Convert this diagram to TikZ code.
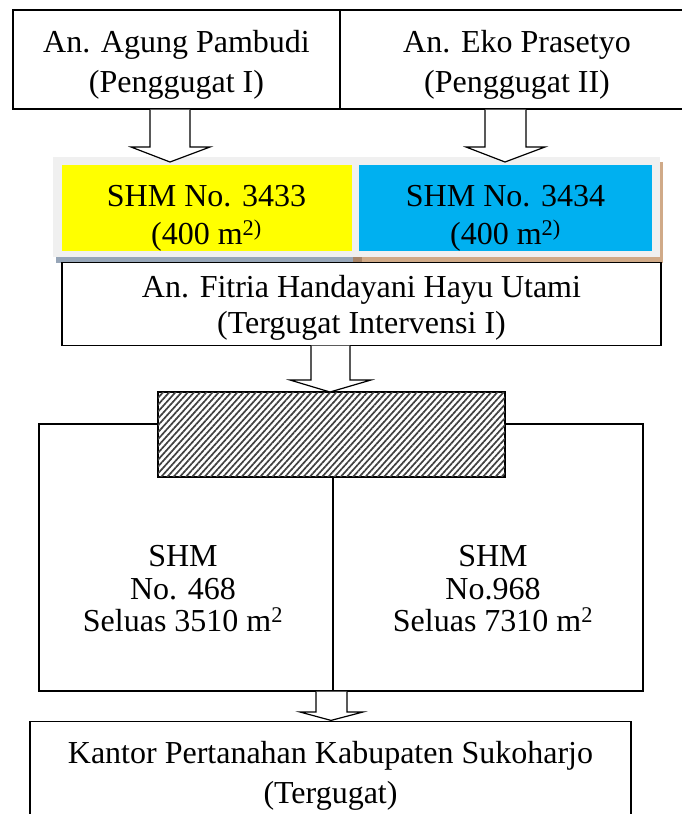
\documentclass[tikz,border=0pt]{standalone}
\usepackage{fontspec}
\setmainfont{Liberation Serif}
\usetikzlibrary{patterns.meta}
\definecolor{shmyellow}{HTML}{FFFF00}
\definecolor{shmblue}{HTML}{00B0F0}
\definecolor{panelgray}{HTML}{F0F0F0}
\definecolor{slatestrip}{HTML}{97A6B8}
\definecolor{brownstrip}{HTML}{D0AA88}
\definecolor{darkbrown}{HTML}{A88568}
\tikzset{
  box/.style={draw=black, line width=1.2pt, fill=white, inner sep=0pt},
  colbox/.style={draw=none, inner sep=0pt},
  plain/.style={inner sep=0pt, align=center, font=\fontsize{32}{40}\selectfont},
  blockarrow/.style={draw=black, line width=1.2pt, fill=white, line join=miter},
}
\begin{document}
\begin{tikzpicture}[x=1pt, y=-1pt]
\useasboundingbox (0,0) rectangle (682,814);
\fill[white] (0,0) rectangle (682,814);
% top boxes
\node[box, minimum width=327pt, minimum height=99pt] (agung) at (176.5,59.5) {};
\node[plain] (agungtext) at (176.5,65) {An. Agung Pambudi\\(Penggugat I)};
\node[box, minimum width=354pt, minimum height=99pt] (eko) at (517,59.5) {};
\node[plain] (ekotext) at (517,65) {An. Eko Prasetyo\\(Penggugat II)};
% shadow strips of panel
\fill[slatestrip] (56,257) rectangle (353,263);
\fill[darkbrown] (353,257) rectangle (362,263);
\fill[brownstrip] (362,257) rectangle (663,263);
\fill[brownstrip] (660,162) rectangle (663,263);
% gray panel
\node[fill=panelgray, inner sep=0pt, minimum width=607pt, minimum height=100pt] (panel) at (356.5,207) {};
% Fitria box
\node[box, minimum width=599pt, minimum height=83pt, anchor=north] (fitria) at (361.5,262) {};
\node[plain, font=\fontsize{32}{36}\selectfont] (fitriatext) at (361.5,308) {An. Fitria Handayani Hayu Utami\\(Tergugat Intervensi I)};
% colored boxes
\node[colbox, fill=shmyellow, minimum width=290pt, minimum height=86pt] (y3433) at (206.5,208) {};
\node[colbox, fill=shmblue, minimum width=293pt, minimum height=86pt] (b3434) at (505.5,208) {};
\node[plain, font=\fontsize{32}{38}\selectfont] (t3433) at (206.5,218) {SHM No. 3433\\(400 m\textsuperscript{2)}};
\node[plain, font=\fontsize{32}{38}\selectfont] (t3434) at (505.5,218) {SHM No. 3434\\(400 m\textsuperscript{2)}};
% big box with two halves
\node[box, minimum width=604pt, minimum height=267pt] (big) at (341,557.5) {};
\node[plain, font=\fontsize{32}{32.5}\selectfont] (shm468) at (183,589) {SHM\\No. 468\\Seluas 3510 m\textsuperscript{2}};
\node[plain, font=\fontsize{32}{32.5}\selectfont] (shm968) at (493,589) {SHM\\No.968\\Seluas 7310 m\textsuperscript{2}};
% hatched box
\node[draw=black, line width=1.2pt, fill=white, minimum width=347pt, minimum height=85pt, inner sep=0pt] (hatch) at (331.5,434.5) {};
\fill[pattern={Lines[angle=48, distance=4.6pt, line width=1.7pt]}, pattern color=black!75]
  (hatch.south west) rectangle (hatch.north east);
\draw[line width=1.2pt] (hatch.south west) rectangle (hatch.north east);
\coordinate (divtop) at (333,477);
\draw[line width=1.2pt] (divtop) -- (divtop |- big.south);
% bottom box
\node[box, minimum width=601pt, minimum height=110pt, anchor=north] (kantor) at (330.5,721) {};
\node[plain] (kantortext) at (330.5,776) {Kantor Pertanahan Kabupaten Sukoharjo\\(Tergugat)};
% block arrows
\draw[blockarrow] (150,109.6) -- (150,147) -- (131,147) -- (170,162) -- (210,147) -- (190,147) -- (190,109.6);
\draw[blockarrow] (485,109.6) -- (485,147) -- (466,147) -- (505,162) -- (545,147) -- (526,147) -- (526,109.6);
\draw[blockarrow] (311,345.6) -- (311,380) -- (290,380) -- (330,392) -- (371,380) -- (350,380) -- (350,345.6);
\draw[blockarrow] (316,691.6) -- (316,712) -- (300,712) -- (331,720.4) -- (363,712) -- (347,712) -- (347,691.6);
\end{tikzpicture}
\end{document}
